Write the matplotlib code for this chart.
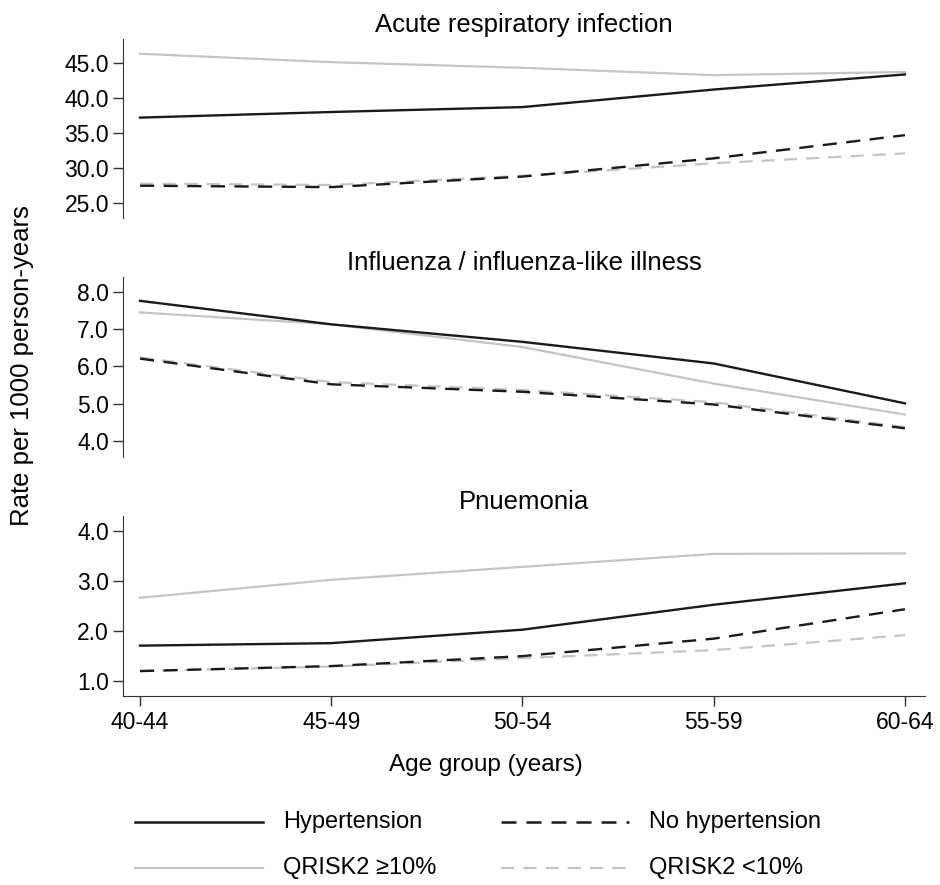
import matplotlib
matplotlib.use('Agg')
import matplotlib.pyplot as plt
from matplotlib.lines import Line2D

plt.rcParams['font.family'] = ['Liberation Sans', 'DejaVu Sans']

# Data
age_groups = ['40-44', '45-49', '50-54', '55-59', '60-64']
titles = ['Acute respiratory infection', 'Influenza / influenza-like illness', 'Pnuemonia']

ari_htn = [37.2, 38.0, 38.7, 41.2, 43.35]
ari_qhigh = [46.3, 45.1, 44.3, 43.25, 43.7]
ari_nohtn = [27.5, 27.3, 28.8, 31.4, 34.7]
ari_qlow = [27.8, 27.6, 28.9, 30.7, 32.1]

ili_htn = [7.76, 7.13, 6.66, 6.08, 5.01]
ili_qhigh = [7.45, 7.13, 6.52, 5.54, 4.71]
ili_nohtn = [6.21, 5.52, 5.32, 4.98, 4.34]
ili_qlow = [6.24, 5.58, 5.37, 5.04, 4.37]

pn_htn = [1.70, 1.75, 2.02, 2.52, 2.95]
pn_qhigh = [2.66, 3.02, 3.28, 3.54, 3.55]
pn_nohtn = [1.19, 1.29, 1.49, 1.84, 2.43]
pn_qlow = [1.19, 1.28, 1.45, 1.61, 1.91]

panel_data = [
    (ari_htn, ari_qhigh, ari_nohtn, ari_qlow),
    (ili_htn, ili_qhigh, ili_nohtn, ili_qlow),
    (pn_htn, pn_qhigh, pn_nohtn, pn_qlow),
]
yticks = [[25, 30, 35, 40, 45], [4, 5, 6, 7, 8], [1, 2, 3, 4]]
ylims = [(22.9, 48.4), (3.57, 8.4), (0.69, 4.3)]

black = '#1a1a1a'
grey = '#c4c4c4'
dash = (6, 4)

fig = plt.figure(figsize=(9.4, 8.85), dpi=100)
W, H = 940, 885
left, right = 123 / W, 925 / W
tops = [39, 277, 516]
bots = [218, 457, 696]

x = list(range(len(age_groups)))
for i in range(3):
    ax = fig.add_axes([left, 1 - bots[i] / H, right - left, (bots[i] - tops[i]) / H])
    htn, qhigh, nohtn, qlow = panel_data[i]
    ax.plot(x, qhigh, color=grey, lw=1.6)
    ax.plot(x, qlow, color=grey, lw=1.6, dashes=dash)
    ax.plot(x, nohtn, color=black, lw=1.7, dashes=dash)
    ax.plot(x, htn, color=black, lw=1.7)
    ax.set_xlim(-0.089, 4.105)
    ax.set_ylim(*ylims[i])
    ax.set_yticks(yticks[i])
    ax.set_yticklabels(['%.1f' % v for v in yticks[i]])
    ax.set_title(titles[i], fontsize=18.5, pad=5)
    ax.spines['top'].set_visible(False)
    ax.spines['right'].set_visible(False)
    ax.tick_params(axis='y', labelsize=16.5, length=7, width=1, color='#333333', pad=3)
    ax.spines['left'].set_color('#333333')
    if i < 2:
        ax.spines['bottom'].set_visible(False)
        ax.set_xticks([])
    else:
        ax.spines['bottom'].set_color('#333333')
        ax.set_xticks(x)
        ax.set_xticklabels(age_groups)
        ax.tick_params(axis='x', labelsize=16.5, length=7, width=1, color='#333333', pad=4)

fig.text(22 / W, 1 - 366 / H, 'Rate per 1000 person-years', rotation=90,
         ha='center', va='center', fontsize=18.5)
fig.text(486 / W, 1 - 765 / H, 'Age group (years)', ha='center', va='center', fontsize=17.5)

# legend, drawn by hand so the spacing matches
legend_items = [
    ('Hypertension', black, 1.8, None, 135, 822),
    ('No hypertension', black, 1.8, dash, 501, 822),
    ('QRISK2 \u226510%', grey, 1.6, None, 135, 868),
    ('QRISK2 <10%', grey, 1.6, dash, 501, 868),
]
for label, col, lw, ds, x0, y0 in legend_items:
    ln = Line2D([x0 / W, (x0 + 128) / W], [1 - y0 / H, 1 - y0 / H],
                color=col, lw=lw, transform=fig.transFigure)
    if ds:
        ln.set_dashes(ds)
    fig.add_artist(ln)
    fig.text((x0 + 148) / W, 1 - y0 / H, label, ha='left', va='center', fontsize=17)

fig.savefig('out.png', dpi=100)
